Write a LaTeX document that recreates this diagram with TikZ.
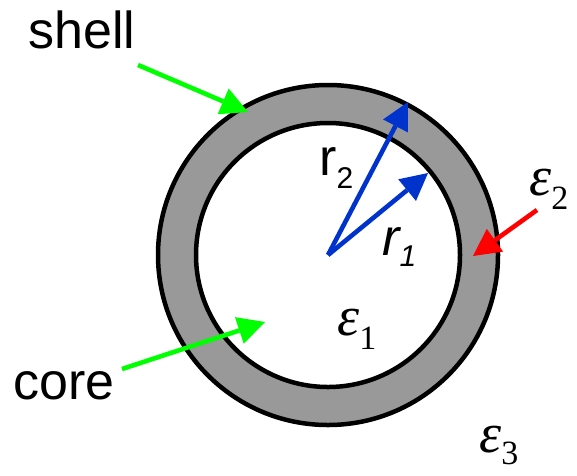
\RequirePackage{fix-cm}
\documentclass[tikz,border=0pt]{standalone}
\usepackage{fontspec}
\newfontfamily\labelfont{Liberation Sans}
\newfontfamily\permfont{Liberation Serif}
\usetikzlibrary{arrows.meta}
\definecolor{ringGray}{HTML}{999999}
\definecolor{markGreen}{HTML}{00FF00}
\definecolor{radiusBlue}{HTML}{0033CC}
\definecolor{markRed}{HTML}{FF0000}
\newcommand{\permsub}[1]{\raisebox{-14pt}{\fontsize{34}{40}\selectfont #1}}

\begin{document}
\begin{tikzpicture}[
  x=1pt, y=-1pt,
  word/.style={anchor=base west, inner sep=0pt, font=\fontsize{52}{60}\selectfont\labelfont},
  radlabel/.style={anchor=base west, inner sep=0pt, font=\fontsize{52}{60}\selectfont\labelfont},
  perm/.style={anchor=base west, inner sep=0pt, font=\fontsize{56}{64}\selectfont\permfont},
  ring/.style={draw=black, line width=4.5pt},
  a/.style={-{Triangle[length=27pt, width=28pt, line width=0pt]}, line width=4.6pt},
  green/.style={a, draw=markGreen, fill=markGreen},
  blue/.style={a, draw=radiusBlue, fill=radiusBlue},
  red/.style={a, draw=markRed, fill=markRed}
]
\useasboundingbox (0,0) rectangle (577,475);
\coordinate (center) at (328,255);
% ring
\fill[ringGray] (center) circle[radius=170pt];
\draw[ring] (center) circle[radius=170pt];
\draw[ring, fill=white] (center) circle[radius=132pt];
% labels
\node[word] (shell) at (28,48) {shell};
\node[word] (core) at (13,399) {core};
\node[radlabel] (rtwo) at (319,175) {r\raisebox{-13pt}{\fontsize{30}{36}\selectfont 2}};
\node[radlabel] (rone) at (382,255) {\itshape r\raisebox{-11pt}{\fontsize{30}{36}\selectfont 1}};
\node[perm] (epsone) at (337,335) {{\itshape ε}\permsub{1}};
\node[perm] (epstwo) at (529,195) {{\itshape ε}\permsub{2}};
\node[perm] (epsthree) at (479,452) {{\itshape ε}\raisebox{-12pt}{\fontsize{34}{40}\selectfont 3}};
% arrow ends
\coordinate (shelltail) at (138,65);
\coordinate (shelltip) at (248,112);
\coordinate (coretail) at (122,369);
\coordinate (coretip) at (265,322);
\coordinate (redtail) at (537,210);
\coordinate (redtip) at (473,256);
\coordinate (outertip) at (408,102);
\coordinate (innertip) at (428,173);
\draw[green] (shelltail) -- (shelltip);
\draw[green] (coretail) -- (coretip);
\draw[red] (redtail) -- (redtip);
\draw[blue] (center) -- (outertip);
\draw[blue] (center) -- (innertip);
\end{tikzpicture}
\end{document}
